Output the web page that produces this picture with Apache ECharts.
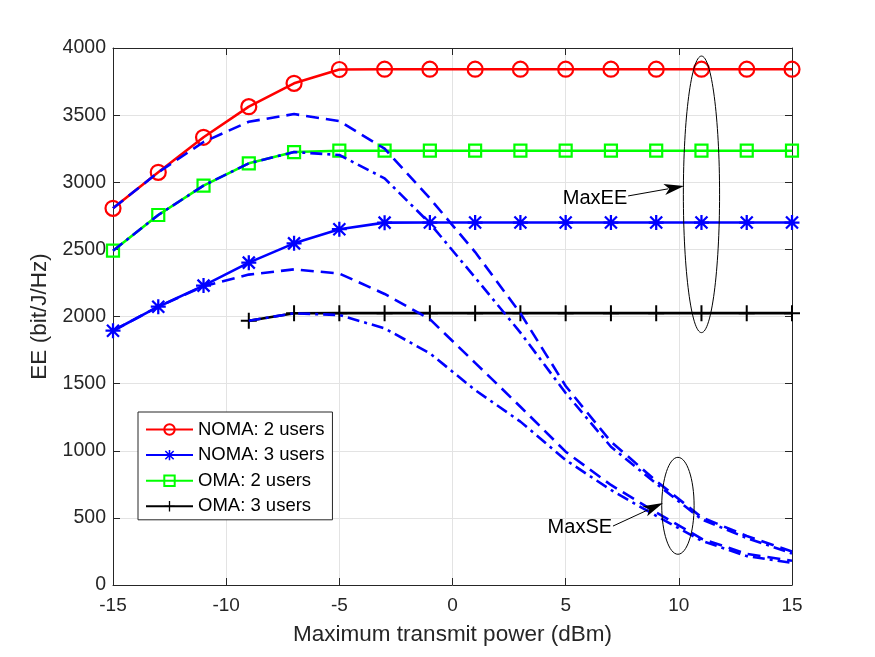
<!DOCTYPE html>
<html>
<head>
<meta charset="utf-8">
<script src="https://cdn.jsdelivr.net/npm/echarts@6/dist/echarts.min.js"></script>
<style>
  html, body { margin: 0; padding: 0; background: #fff; }
  #main { width: 875px; height: 657px; }
</style>
</head>
<body>
<div id="main"></div>
<script>
// transmit power grid (dBm)
const power = [-15, -13, -11, -9, -7, -5, -3, -1, 1, 3, 5, 7, 9, 11, 13, 15];

// MaxEE curves (solid, with markers)
const noma2 = [2806, 3074, 3335, 3563, 3737, 3840, 3842, 3842, 3842, 3842, 3842, 3842, 3842, 3842, 3842, 3842];
const noma3 = [1894, 2073, 2230, 2401, 2545, 2650, 2699, 2700, 2700, 2700, 2700, 2700, 2700, 2700, 2700, 2700];
const oma2 = [2490, 2756, 2975, 3141, 3225, 3235, 3235, 3235, 3235, 3235, 3235, 3235, 3235, 3235, 3235, 3235];
const oma3 = [null, null, null, 1969, 2024, 2025, 2025, 2025, 2025, 2025, 2025, 2025, 2025, 2025, 2025, 2025];

// MaxSE curves (blue dashed / dash-dot)
const maxSeNoma2 = [2806, 3074, 3300, 3451, 3508, 3455, 3250, 2880, 2480, 2024, 1482, 1068, 775, 505, 365, 250];
const maxSeOma2 = [2490, 2756, 2975, 3141, 3225, 3203, 3029, 2694, 2290, 1880, 1430, 1030, 755, 490, 350, 235];
const maxSeNoma3 = [1894, 2073, 2225, 2312, 2351, 2320, 2168, 1980, 1655, 1328, 993, 745, 540, 345, 232, 180];
const maxSeOma3 = [null, null, null, 1969, 2024, 2011, 1912, 1726, 1452, 1217, 931, 708, 515, 330, 215, 165];

const FONT = '"Liberation Sans", Arial, Helvetica, sans-serif';
const AXIS_COLOR = '#262626';

function pairs(ys) {
  return power.map((x, i) => [x, ys[i]]).filter(p => p[1] !== null);
}

const plusPath = 'path://M8.75,0H11.25V20H8.75Z M0,8.75H20V11.25H0Z';
const starPath = 'path://M8.5,0H11.5V20H8.5Z M0,8.5H20V11.5H0Z ' +
  'M0.94,3.06L3.06,0.94L19.06,16.94L16.94,19.06Z M16.94,0.94L19.06,3.06L3.06,19.06L0.94,16.94Z';

function solid(name, ys, color, symbol, size, hollow) {
  return {
    name: name,
    type: 'line',
    data: pairs(ys),
    color: color,
    symbol: symbol,
    symbolSize: size,
    showAllSymbol: true,
    lineStyle: { color: color, width: 2.6 },
    itemStyle: hollow
      ? { color: 'rgba(255,255,255,0)', borderColor: color, borderWidth: 2.2 }
      : { color: color, borderWidth: 0 },
    emphasis: { disabled: true },
    animation: false,
    z: 2
  };
}

function dashed(name, ys, dash) {
  return {
    name: name,
    type: 'line',
    data: pairs(ys),
    color: '#0000ff',
    symbol: 'none',
    lineStyle: { color: '#0000ff', width: 2.6, type: dash },
    emphasis: { disabled: true },
    animation: false,
    z: 3
  };
}

function axisCommon(extra) {
  return Object.assign({
    type: 'value',
    axisLine: { show: true, onZero: false, lineStyle: { color: AXIS_COLOR, width: 1 } },
    axisTick: { show: true, inside: true, length: 7, lineStyle: { color: AXIS_COLOR, width: 1 } },
    axisLabel: { show: false },
    splitLine: { show: false }
  }, extra);
}

const chart = echarts.init(document.getElementById('main'), null, { renderer: 'canvas' });

const option = {
  backgroundColor: '#fff',
  animation: false,
  textStyle: { fontFamily: FONT },
  grid: { left: 113, right: 83, top: 48, bottom: 72, containLabel: false, outerBoundsMode: 'none' },
  xAxis: [
    axisCommon({
      min: -15, max: 15, interval: 5, position: 'bottom',
      name: 'Maximum transmit power (dBm)', nameLocation: 'middle', nameGap: 38,
      nameTextStyle: { fontSize: 22.5, color: AXIS_COLOR, fontFamily: FONT },
      axisLabel: { show: true, fontSize: 19, color: AXIS_COLOR, margin: 11, fontFamily: FONT,
        showMinLabel: true, showMaxLabel: true, formatter: v => String(v) },
      splitLine: { show: true, lineStyle: { color: '#e3e3e3', width: 1 } }
    }),
    axisCommon({ min: -15, max: 15, interval: 5, position: 'top' })
  ],
  yAxis: [
    axisCommon({
      min: 0, max: 4000, interval: 500, position: 'left',
      name: 'EE (bit/J/Hz)', nameLocation: 'middle', nameGap: 52, nameRotate: 90,
      nameTextStyle: { fontSize: 22.5, color: AXIS_COLOR, fontFamily: FONT },
      axisLabel: { show: true, fontSize: 19.5, color: AXIS_COLOR, margin: 7, fontFamily: FONT,
        showMinLabel: true, showMaxLabel: true, formatter: v => String(v) },
      splitLine: { show: true, lineStyle: { color: '#e3e3e3', width: 1 } }
    }),
    axisCommon({ min: 0, max: 4000, interval: 500, position: 'right' })
  ],
  legend: {
    data: ['NOMA: 2 users', 'NOMA: 3 users', 'OMA: 2 users', 'OMA: 3 users'],
    orient: 'vertical',
    left: 138, top: 412,
    padding: [8, 8, 4, 7],
    itemWidth: 47, itemHeight: 13, itemGap: 6.6,
    backgroundColor: '#fff',
    borderColor: AXIS_COLOR, borderWidth: 1, borderRadius: 0,
    textStyle: { fontSize: 18.5, color: '#000', fontFamily: FONT },
    selectedMode: false
  },
  series: [
    solid('NOMA: 2 users', noma2, '#ff0000', 'circle', 15, true),
    solid('NOMA: 3 users', noma3, '#0000ff', starPath, 15, false),
    solid('OMA: 2 users', oma2, '#00ff00', 'rect', 12, true),
    solid('OMA: 3 users', oma3, '#000000', plusPath, 16, false),
    dashed('MaxSE NOMA 2', maxSeNoma2, [13, 7]),
    dashed('MaxSE OMA 2', maxSeOma2, [12, 5, 3, 5]),
    dashed('MaxSE NOMA 3', maxSeNoma3, [13, 7]),
    dashed('MaxSE OMA 3', maxSeOma3, [12, 5, 3, 5])
  ]
};

chart.setOption(option);

// annotations: ellipses, arrows and labels placed in data units
function px(x, y) {
  return chart.convertToPixel({ xAxisIndex: 0, yAxisIndex: 0 }, [x, y]);
}

function ellipse(cx, cy, rx, ry) {
  const c = px(cx, cy);
  const e = px(cx + rx, cy + ry);
  return {
    type: 'ellipse', z: 10,
    shape: { cx: c[0], cy: c[1], rx: Math.abs(e[0] - c[0]), ry: Math.abs(c[1] - e[1]) },
    style: { fill: null, stroke: '#000', lineWidth: 1 }
  };
}

function arrow(x0, y0, x1, y1) {
  const a = px(x0, y0), b = px(x1, y1);
  const dx = b[0] - a[0], dy = b[1] - a[1];
  const len = Math.sqrt(dx * dx + dy * dy);
  const ux = dx / len, uy = dy / len;
  const head = 20, half = 5.5;
  const bx = b[0] - ux * head, by = b[1] - uy * head;
  return [
    { type: 'line', z: 10, shape: { x1: a[0], y1: a[1], x2: bx + ux * 4, y2: by + uy * 4 }, style: { stroke: '#000', lineWidth: 1 } },
    { type: 'polygon', z: 10, shape: { points: [
      [b[0], b[1]],
      [bx - uy * half, by + ux * half],
      [bx + ux * 5, by + uy * 5],
      [bx + uy * half, by - ux * half]
    ] }, style: { fill: '#000' } }
  ];
}

function label(text, x, y) {
  const p = px(x, y);
  return {
    type: 'text', z: 10, x: p[0], y: p[1],
    style: { text: text, fill: '#000', font: '20px ' + FONT, align: 'right', verticalAlign: 'middle' }
  };
}

chart.setOption({
  graphic: [
    ellipse(11.0, 2910, 0.8, 1030),
    ellipse(9.96, 590, 0.715, 361),
    ...arrow(7.76, 2898, 10.23, 2972),
    ...arrow(7.09, 439, 9.30, 611),
    label('MaxEE', 7.72, 2880),
    label('MaxSE', 7.05, 430)
  ]
});
</script>
</body>
</html>
